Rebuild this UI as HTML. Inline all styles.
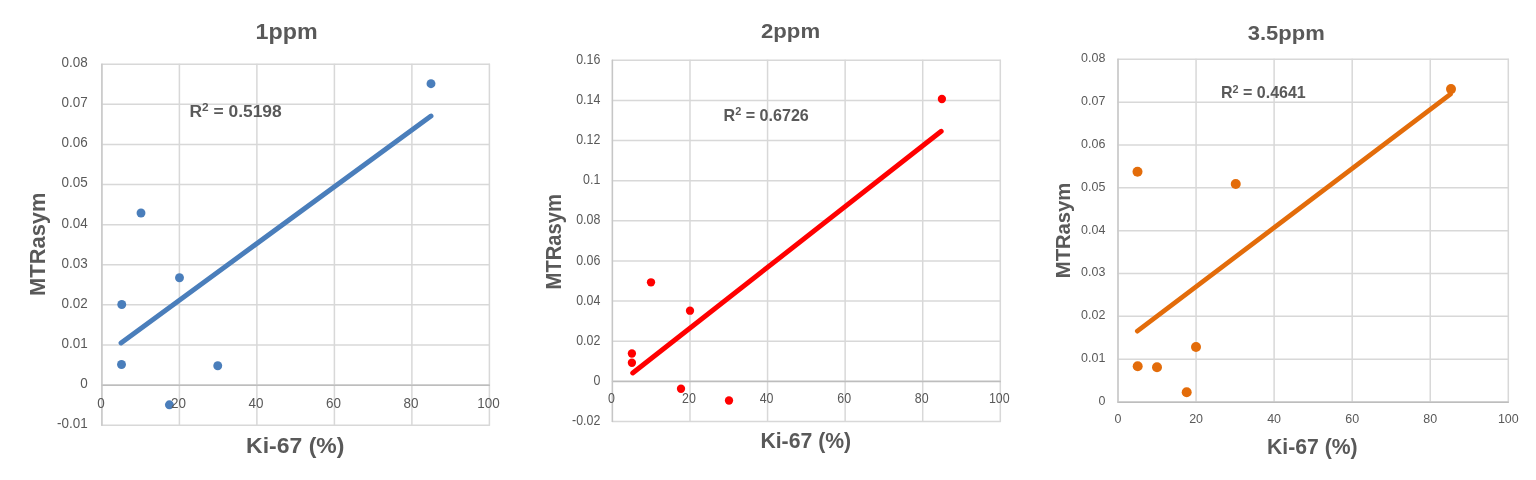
<!DOCTYPE html>
<html lang="en">
<head>
<meta charset="utf-8">
<title>MTRasym vs Ki-67</title>
<style>
html,body{margin:0;padding:0;background:#fff;}
body{width:1536px;height:480px;overflow:hidden;}
svg{display:block;}
text{font-family:"Liberation Sans", sans-serif;fill:#595959;}
.b{font-weight:bold;}
.g line{stroke:#d8d8d8;stroke-width:1.5;}
</style>
</head>
<body>
<svg width="1536" height="480" viewBox="0 0 1536 480">
<rect width="1536" height="480" fill="#ffffff"/>
<g id="chart1">
<g class="g">
<line x1="101.4" y1="64.2" x2="489.9" y2="64.2"/>
<line x1="101.4" y1="104.31" x2="489.9" y2="104.31"/>
<line x1="101.4" y1="144.42" x2="489.9" y2="144.42"/>
<line x1="101.4" y1="184.53" x2="489.9" y2="184.53"/>
<line x1="101.4" y1="224.64" x2="489.9" y2="224.64"/>
<line x1="101.4" y1="264.76" x2="489.9" y2="264.76"/>
<line x1="101.4" y1="304.87" x2="489.9" y2="304.87"/>
<line x1="101.4" y1="344.98" x2="489.9" y2="344.98"/>
<line x1="101.4" y1="385.09" x2="489.9" y2="385.09"/>
<line x1="101.4" y1="425.2" x2="489.9" y2="425.2"/>
<line x1="101.9" y1="63.7" x2="101.9" y2="425.7"/>
<line x1="179.4" y1="63.7" x2="179.4" y2="425.7"/>
<line x1="256.9" y1="63.7" x2="256.9" y2="425.7"/>
<line x1="334.4" y1="63.7" x2="334.4" y2="425.7"/>
<line x1="411.9" y1="63.7" x2="411.9" y2="425.7"/>
<line x1="489.4" y1="63.7" x2="489.4" y2="425.7"/>
</g>
<line x1="101.4" y1="385.29" x2="489.9" y2="385.29" stroke="#bdbdbd" stroke-width="1.4"/>
<line x1="101.9" y1="63.7" x2="101.9" y2="425.7" stroke="#c6c6c6" stroke-width="1.3"/>
<line x1="121" y1="343" x2="431" y2="116" stroke="#4a7ebb" stroke-width="4.9" stroke-linecap="round"/>
<g fill="#4a7ebb">
<circle cx="431" cy="83.7" r="4.45"/>
<circle cx="141" cy="213" r="4.45"/>
<circle cx="179.5" cy="277.75" r="4.45"/>
<circle cx="121.75" cy="304.5" r="4.45"/>
<circle cx="121.5" cy="364.5" r="4.45"/>
<circle cx="217.75" cy="365.75" r="4.45"/>
<circle cx="169.4" cy="404.8" r="4.45"/>
</g>
<g font-size="13.9">
<text transform="translate(87.75 67.1) scale(0.97 1)" text-anchor="end">0.08</text>
<text transform="translate(87.75 107.21) scale(0.97 1)" text-anchor="end">0.07</text>
<text transform="translate(87.75 147.32) scale(0.97 1)" text-anchor="end">0.06</text>
<text transform="translate(87.75 187.43) scale(0.97 1)" text-anchor="end">0.05</text>
<text transform="translate(87.75 227.54) scale(0.97 1)" text-anchor="end">0.04</text>
<text transform="translate(87.75 267.65) scale(0.97 1)" text-anchor="end">0.03</text>
<text transform="translate(87.75 307.76) scale(0.97 1)" text-anchor="end">0.02</text>
<text transform="translate(87.75 347.87) scale(0.97 1)" text-anchor="end">0.01</text>
<text transform="translate(87.75 387.98) scale(0.97 1)" text-anchor="end">0</text>
<text transform="translate(87.75 428.1) scale(0.97 1)" text-anchor="end">-0.01</text>
<text transform="translate(100.9 407.8) scale(0.97 1)" text-anchor="middle">0</text>
<text transform="translate(178.4 407.8) scale(0.97 1)" text-anchor="middle">20</text>
<text transform="translate(255.9 407.8) scale(0.97 1)" text-anchor="middle">40</text>
<text transform="translate(333.4 407.8) scale(0.97 1)" text-anchor="middle">60</text>
<text transform="translate(410.9 407.8) scale(0.97 1)" text-anchor="middle">80</text>
<text transform="translate(488.4 407.8) scale(0.97 1)" text-anchor="middle">100</text>
</g>
<text id="c0_title" class="b" font-size="21.7" transform="translate(255.5 38.75) scale(1.0730 1)">1ppm</text>
<text id="c0_r2" class="b" font-size="17.4" transform="translate(189.5 117) scale(1.0001 1)">R<tspan font-size="11.83" dy="-5.74">2</tspan><tspan dy="5.74"> = 0.5198</tspan></text>
<text id="c0_ytitle" class="b" font-size="21.7" transform="translate(45 296) rotate(-90) scale(1.0100 1)">MTRasym</text>
<text id="c0_xtitle" class="b" font-size="22" transform="translate(246.1 453) scale(1.0442 1)">Ki-67 (%)</text>
</g>
<g id="chart2">
<g class="g">
<line x1="611.9" y1="60.3" x2="1000.8" y2="60.3"/>
<line x1="611.9" y1="100.43" x2="1000.8" y2="100.43"/>
<line x1="611.9" y1="140.57" x2="1000.8" y2="140.57"/>
<line x1="611.9" y1="180.7" x2="1000.8" y2="180.7"/>
<line x1="611.9" y1="220.83" x2="1000.8" y2="220.83"/>
<line x1="611.9" y1="260.97" x2="1000.8" y2="260.97"/>
<line x1="611.9" y1="301.1" x2="1000.8" y2="301.1"/>
<line x1="611.9" y1="341.23" x2="1000.8" y2="341.23"/>
<line x1="611.9" y1="381.37" x2="1000.8" y2="381.37"/>
<line x1="611.9" y1="421.5" x2="1000.8" y2="421.5"/>
<line x1="612.4" y1="59.8" x2="612.4" y2="422"/>
<line x1="689.98" y1="59.8" x2="689.98" y2="422"/>
<line x1="767.56" y1="59.8" x2="767.56" y2="422"/>
<line x1="845.14" y1="59.8" x2="845.14" y2="422"/>
<line x1="922.72" y1="59.8" x2="922.72" y2="422"/>
<line x1="1000.3" y1="59.8" x2="1000.3" y2="422"/>
</g>
<line x1="611.9" y1="381.57" x2="1000.8" y2="381.57" stroke="#bdbdbd" stroke-width="1.4"/>
<line x1="612.4" y1="59.8" x2="612.4" y2="422" stroke="#c6c6c6" stroke-width="1.3"/>
<line x1="632.7" y1="373" x2="941.2" y2="131.3" stroke="#ff0000" stroke-width="4.9" stroke-linecap="round"/>
<g fill="#ff0000">
<circle cx="941.9" cy="99" r="4.15"/>
<circle cx="651" cy="282.3" r="4.15"/>
<circle cx="690" cy="310.7" r="4.15"/>
<circle cx="631.9" cy="353.5" r="4.15"/>
<circle cx="631.9" cy="362.75" r="4.15"/>
<circle cx="681" cy="388.75" r="4.15"/>
<circle cx="729" cy="400.5" r="4.15"/>
</g>
<g font-size="13.8">
<text transform="translate(600.3 63.86) scale(0.9 1)" text-anchor="end">0.16</text>
<text transform="translate(600.3 103.99) scale(0.9 1)" text-anchor="end">0.14</text>
<text transform="translate(600.3 144.13) scale(0.9 1)" text-anchor="end">0.12</text>
<text transform="translate(600.3 184.26) scale(0.9 1)" text-anchor="end">0.1</text>
<text transform="translate(600.3 224.39) scale(0.9 1)" text-anchor="end">0.08</text>
<text transform="translate(600.3 264.53) scale(0.9 1)" text-anchor="end">0.06</text>
<text transform="translate(600.3 304.66) scale(0.9 1)" text-anchor="end">0.04</text>
<text transform="translate(600.3 344.79) scale(0.9 1)" text-anchor="end">0.02</text>
<text transform="translate(600.3 384.93) scale(0.9 1)" text-anchor="end">0</text>
<text transform="translate(600.3 425.06) scale(0.9 1)" text-anchor="end">-0.02</text>
<text transform="translate(611.4 403.06) scale(0.9 1)" text-anchor="middle">0</text>
<text transform="translate(688.98 403.06) scale(0.9 1)" text-anchor="middle">20</text>
<text transform="translate(766.56 403.06) scale(0.9 1)" text-anchor="middle">40</text>
<text transform="translate(844.14 403.06) scale(0.9 1)" text-anchor="middle">60</text>
<text transform="translate(921.72 403.06) scale(0.9 1)" text-anchor="middle">80</text>
<text transform="translate(999.3 403.06) scale(0.9 1)" text-anchor="middle">100</text>
</g>
<text id="c1_title" class="b" font-size="21" transform="translate(761 38.25) scale(1.0558 1)">2ppm</text>
<text id="c1_r2" class="b" font-size="16.3" transform="translate(723.5 120.75) scale(0.9883 1)">R<tspan font-size="11.08" dy="-5.38">2</tspan><tspan dy="5.38"> = 0.6726</tspan></text>
<text id="c1_ytitle" class="b" font-size="21.2" transform="translate(560.7 289.4) rotate(-90) scale(0.9531 1)">MTRasym</text>
<text id="c1_xtitle" class="b" font-size="21.3" transform="translate(760.4 447.5) scale(0.9956 1)">Ki-67 (%)</text>
</g>
<g id="chart3">
<g class="g">
<line x1="1117.5" y1="59.3" x2="1508.8" y2="59.3"/>
<line x1="1117.5" y1="102.14" x2="1508.8" y2="102.14"/>
<line x1="1117.5" y1="144.97" x2="1508.8" y2="144.97"/>
<line x1="1117.5" y1="187.81" x2="1508.8" y2="187.81"/>
<line x1="1117.5" y1="230.65" x2="1508.8" y2="230.65"/>
<line x1="1117.5" y1="273.49" x2="1508.8" y2="273.49"/>
<line x1="1117.5" y1="316.32" x2="1508.8" y2="316.32"/>
<line x1="1117.5" y1="359.16" x2="1508.8" y2="359.16"/>
<line x1="1117.5" y1="402" x2="1508.8" y2="402"/>
<line x1="1118" y1="58.8" x2="1118" y2="402.5"/>
<line x1="1196.06" y1="58.8" x2="1196.06" y2="402.5"/>
<line x1="1274.12" y1="58.8" x2="1274.12" y2="402.5"/>
<line x1="1352.18" y1="58.8" x2="1352.18" y2="402.5"/>
<line x1="1430.24" y1="58.8" x2="1430.24" y2="402.5"/>
<line x1="1508.3" y1="58.8" x2="1508.3" y2="402.5"/>
</g>
<line x1="1117.5" y1="402.2" x2="1508.8" y2="402.2" stroke="#bdbdbd" stroke-width="1.4"/>
<line x1="1118" y1="58.8" x2="1118" y2="402.5" stroke="#c6c6c6" stroke-width="1.3"/>
<line x1="1137.3" y1="331.2" x2="1450.5" y2="94.1" stroke="#e36c0a" stroke-width="4.7" stroke-linecap="round"/>
<g fill="#e36c0a">
<circle cx="1451" cy="89.1" r="5"/>
<circle cx="1137.5" cy="171.75" r="5"/>
<circle cx="1235.75" cy="184" r="5"/>
<circle cx="1196" cy="347" r="5"/>
<circle cx="1137.7" cy="366.3" r="5"/>
<circle cx="1157" cy="367.3" r="5"/>
<circle cx="1186.7" cy="392.3" r="5"/>
</g>
<g font-size="13">
<text transform="translate(1105.4 62.28) scale(0.96 1)" text-anchor="end">0.08</text>
<text transform="translate(1105.4 105.12) scale(0.96 1)" text-anchor="end">0.07</text>
<text transform="translate(1105.4 147.96) scale(0.96 1)" text-anchor="end">0.06</text>
<text transform="translate(1105.4 190.8) scale(0.96 1)" text-anchor="end">0.05</text>
<text transform="translate(1105.4 233.63) scale(0.96 1)" text-anchor="end">0.04</text>
<text transform="translate(1105.4 276.47) scale(0.96 1)" text-anchor="end">0.03</text>
<text transform="translate(1105.4 319.31) scale(0.96 1)" text-anchor="end">0.02</text>
<text transform="translate(1105.4 362.15) scale(0.96 1)" text-anchor="end">0.01</text>
<text transform="translate(1105.4 404.99) scale(0.96 1)" text-anchor="end">0</text>
<text transform="translate(1118 423.49) scale(0.96 1)" text-anchor="middle">0</text>
<text transform="translate(1196.06 423.49) scale(0.96 1)" text-anchor="middle">20</text>
<text transform="translate(1274.12 423.49) scale(0.96 1)" text-anchor="middle">40</text>
<text transform="translate(1352.18 423.49) scale(0.96 1)" text-anchor="middle">60</text>
<text transform="translate(1430.24 423.49) scale(0.96 1)" text-anchor="middle">80</text>
<text transform="translate(1508.3 423.49) scale(0.96 1)" text-anchor="middle">100</text>
</g>
<text id="c2_title" class="b" font-size="20.7" transform="translate(1247.75 40) scale(1.0635 1)">3.5ppm</text>
<text id="c2_r2" class="b" font-size="16.3" transform="translate(1221 98) scale(0.9824 1)">R<tspan font-size="11.08" dy="-5.38">2</tspan><tspan dy="5.38"> = 0.4641</tspan></text>
<text id="c2_ytitle" class="b" font-size="20.7" transform="translate(1070 278.2) rotate(-90) scale(0.9769 1)">MTRasym</text>
<text id="c2_xtitle" class="b" font-size="21.7" transform="translate(1267 453.7) scale(0.9759 1)">Ki-67 (%)</text>
</g>
</svg>
</body>
</html>
